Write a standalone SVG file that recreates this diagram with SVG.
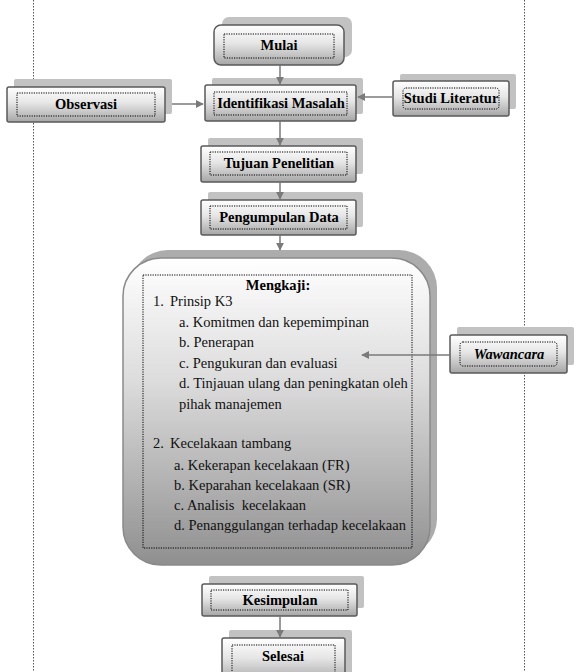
<svg xmlns="http://www.w3.org/2000/svg" width="582" height="672" viewBox="0 0 582 672">
<defs>
<linearGradient id="gBox" x1="0" y1="0" x2="0" y2="1">
<stop offset="0" stop-color="#ffffff"/>
<stop offset="0.45" stop-color="#e6e6e6"/>
<stop offset="1" stop-color="#a6a6a6"/>
</linearGradient>
<linearGradient id="gBig" x1="0" y1="0" x2="0" y2="1">
<stop offset="0" stop-color="#ffffff"/>
<stop offset="0.4" stop-color="#dcdcdc"/>
<stop offset="1" stop-color="#8f8f8f"/>
</linearGradient>
<marker id="ah" viewBox="0 0 10 10" refX="9" refY="5" markerWidth="8" markerHeight="8" markerUnits="userSpaceOnUse" orient="auto">
<path d="M0,0 L10,5 L0,10 z" fill="#7a7a7a"/>
</marker>
</defs>
<style>
.sh{fill:#c2c2c2;}
.bx{fill:url(#gBox);stroke:#5a5a5a;stroke-width:1.5;}
.in{fill:none;stroke:#000;stroke-width:1;stroke-dasharray:1.2 1.2;}
.lb{font-family:"Liberation Serif","Times New Roman",serif;font-weight:bold;font-size:14.5px;fill:#000;text-anchor:middle;}
.tx{font-family:"Liberation Serif","Times New Roman",serif;font-size:14.5px;fill:#111;}
.con{stroke:#7a7a7a;stroke-width:1.5;fill:none;marker-end:url(#ah);}
.vl{stroke:#555;stroke-width:1;stroke-dasharray:1.5 1.5;}
</style>
<rect width="582" height="672" fill="#ffffff"/>
<g id="guides">
<line class="vl" x1="33.5" y1="0" x2="33.5" y2="672"/>
<line class="vl" x1="524.5" y1="0" x2="524.5" y2="672"/>
</g>
<g id="mulai">
<rect class="sh" x="222" y="17" width="130" height="40" rx="7"/>
<rect class="bx" x="214" y="25" width="130" height="40" rx="7"/>
<rect class="in" x="224" y="34" width="110" height="24"/>
<text class="lb" x="279" y="50">Mulai</text>
</g>
<g id="identifikasi">
<rect class="sh" x="212" y="78" width="151" height="36" rx="2"/>
<rect class="bx" x="205" y="85" width="151" height="36" rx="2"/>
<rect class="in" x="214" y="92" width="133" height="23"/>
<text class="lb" x="281" y="108">Identifikasi Masalah</text>
</g>
<g id="observasi">
<rect class="sh" x="14" y="79" width="158" height="35" rx="2"/>
<rect class="bx" x="7" y="87" width="158" height="35" rx="2"/>
<rect class="in" x="17" y="93" width="138" height="23"/>
<text class="lb" x="86" y="109">Observasi</text>
</g>
<g id="studi">
<rect class="sh" x="400" y="74" width="116" height="35" rx="2"/>
<rect class="bx" x="393" y="81" width="116" height="35" rx="2"/>
<rect class="in" x="403" y="88" width="96" height="21" rx="3"/>
<text class="lb" x="451" y="103">Studi Literatur</text>
</g>
<g id="tujuan">
<rect class="sh" x="208" y="138" width="155" height="36" rx="2"/>
<rect class="bx" x="201" y="146" width="155" height="36" rx="2"/>
<rect class="in" x="210" y="152" width="137" height="23"/>
<text class="lb" x="279" y="168">Tujuan Penelitian</text>
</g>
<g id="pengumpulan">
<rect class="sh" x="208" y="192" width="155" height="35" rx="2"/>
<rect class="bx" x="201" y="200" width="155" height="35" rx="2"/>
<rect class="in" x="210" y="206" width="137" height="23"/>
<text class="lb" x="279" y="222">Pengumpulan Data</text>
</g>
<g id="mengkaji">
<rect x="130" y="250" width="307" height="307" rx="38" fill="#acacac"/>
<rect x="123" y="258" width="307" height="307" rx="38" fill="url(#gBig)" stroke="#8a8a8a" stroke-width="1.5"/>
<rect class="in" x="143" y="275" width="269" height="273"/>
<text class="lb" x="278" y="290">Mengkaji:</text>
<text class="tx" x="153" y="306">1.</text>
<text class="tx" x="170" y="306">Prinsip K3</text>
<text class="tx" x="179" y="327">a. Komitmen dan kepemimpinan</text>
<text class="tx" x="179" y="347">b. Penerapan</text>
<text class="tx" x="179" y="368">c. Pengukuran dan evaluasi</text>
<text class="tx" x="179" y="388">d. Tinjauan ulang dan peningkatan oleh</text>
<text class="tx" x="179" y="409">pihak manajemen</text>
<text class="tx" x="153" y="448">2.</text>
<text class="tx" x="170" y="448">Kecelakaan tambang</text>
<text class="tx" x="174" y="470">a. Kekerapan kecelakaan (FR)</text>
<text class="tx" x="174" y="490">b. Keparahan kecelakaan (SR)</text>
<text class="tx" x="174" y="510" xml:space="preserve">c. Analisis  kecelakaan</text>
<text class="tx" x="174" y="530">d. Penanggulangan terhadap kecelakaan</text>
</g>
<g id="wawancara">
<rect class="sh" x="457" y="327" width="117" height="38" rx="2"/>
<rect class="bx" x="450" y="335" width="117" height="38" rx="2"/>
<rect class="in" x="460" y="342" width="97" height="24" rx="3"/>
<text class="lb" x="509" y="359" font-style="italic">Wawancara</text>
</g>
<g id="kesimpulan">
<rect class="sh" x="209" y="576" width="155" height="32" rx="2"/>
<rect class="bx" x="202" y="584" width="155" height="32" rx="2"/>
<rect class="in" x="211" y="590" width="137" height="20"/>
<text class="lb" x="280" y="605">Kesimpulan</text>
</g>
<g id="selesai">
<rect class="sh" x="229" y="630" width="123" height="44" rx="2"/>
<rect class="bx" x="222" y="638" width="123" height="44" rx="2"/>
<rect class="in" x="232" y="645" width="103" height="30"/>
<text class="lb" x="283" y="661">Selesai</text>
</g>
<g id="connectors">
<line class="con" x1="280" y1="65" x2="280" y2="84"/>
<line class="con" x1="280" y1="121" x2="280" y2="145"/>
<line class="con" x1="280" y1="182" x2="280" y2="199"/>
<line class="con" x1="280" y1="235" x2="280" y2="250"/>
<line class="con" x1="172" y1="104" x2="203" y2="104"/>
<line class="con" x1="392" y1="97" x2="358" y2="97"/>
<line class="con" x1="450" y1="355" x2="362" y2="355"/>
<line class="con" x1="280" y1="616" x2="280" y2="637"/>
</g>
</svg>
